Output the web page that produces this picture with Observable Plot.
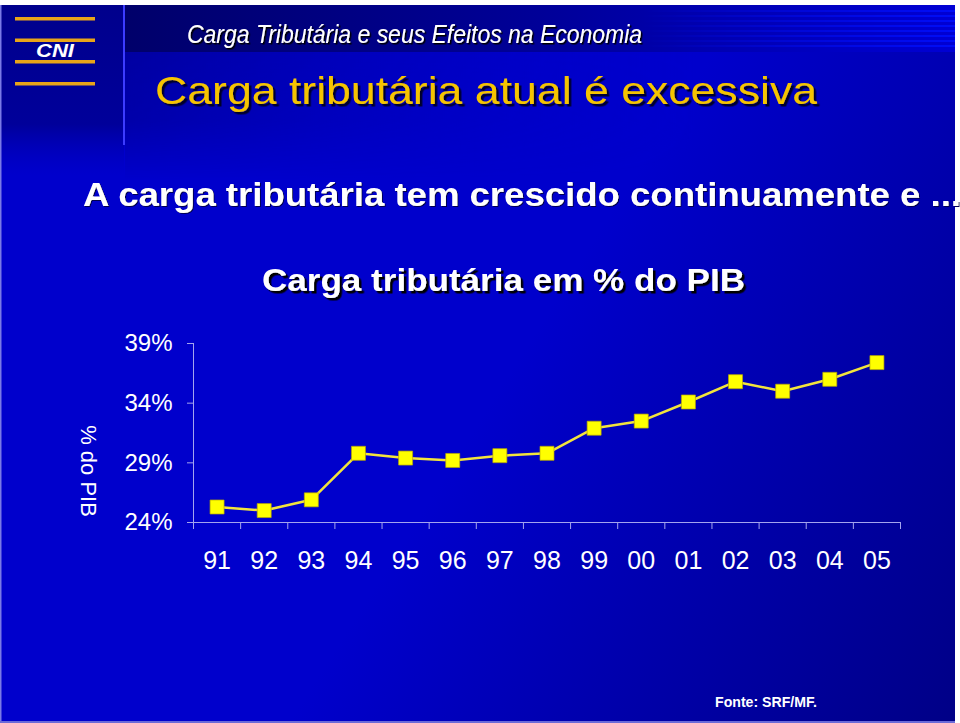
<!DOCTYPE html>
<html>
<head>
<meta charset="utf-8">
<script src="https://cdn.jsdelivr.net/npm/d3@7"></script>
<script src="https://cdn.jsdelivr.net/npm/@observablehq/plot@0.6"></script>
<style>
  html, body { margin: 0; padding: 0; background: #ffffff; }
  #slide { position: relative; width: 960px; height: 723px; overflow: hidden; font-family: "Liberation Sans", Arial, sans-serif; }
  #chart { position: absolute; left: 0; top: 300px; }
  #chart svg text { fill: #ffffff; }
</style>
</head>
<body>
<div id="slide"><div id="chart"></div></div>
<script>
// ---- data ----
const years = ["91", "92", "93", "94", "95", "96", "97", "98", "99", "00", "01", "02", "03", "04", "05"];
const cargaPIB = [25.3, 25.0, 25.9, 29.8, 29.4, 29.2, 29.6, 29.8, 31.9, 32.5, 34.1, 35.8, 35.0, 36.0, 37.4];
const yTicks = [24, 29, 34, 39];
const headerText = "Carga Tributária e seus Efeitos na Economia";
const titleText = "Carga tributária atual é excessiva";
const subtitleText = "A carga tributária tem crescido continuamente e ...";
const chartTitle = "Carga tributária em % do PIB";
const yLabel = "% do PIB";
const sourceText = "Fonte: SRF/MF.";

const rows = years.map((year, i) => ({i, year, v: cargaPIB[i]}));
const xDomain = [-0.5, years.length - 0.5];

// ---- decorative slide background & texts ----
const W = 960, H = 723;
const deco = d3.select("#slide").insert("svg", "#chart")
  .attr("width", W).attr("height", H)
  .style("position", "absolute").style("left", 0).style("top", 0);
const defs = deco.append("defs");

const bg = defs.append("linearGradient").attr("id", "bg")
  .attr("gradientUnits", "userSpaceOnUse")
  .attr("x1", 480).attr("y1", 420).attr("x2", 960).attr("y2", 723);
bg.append("stop").attr("offset", 0).attr("stop-color", "#0000cc");
bg.append("stop").attr("offset", 1).attr("stop-color", "#000086");

const band = defs.append("linearGradient").attr("id", "band");
band.append("stop").attr("offset", 0).attr("stop-color", "#00006a");
band.append("stop").attr("offset", 0.5).attr("stop-color", "#000098");
band.append("stop").attr("offset", 1).attr("stop-color", "#0000d4");

const below = defs.append("linearGradient").attr("id", "below");
below.append("stop").attr("offset", 0).attr("stop-color", "#00009a").attr("stop-opacity", 1);
below.append("stop").attr("offset", 0.7).attr("stop-color", "#0000cc").attr("stop-opacity", 0);

const vfade = defs.append("linearGradient").attr("id", "vfade").attr("x1", 0).attr("y1", 0).attr("x2", 0).attr("y2", 1);
vfade.append("stop").attr("offset", 0).attr("stop-color", "#fff").attr("stop-opacity", 1);
vfade.append("stop").attr("offset", 0.55).attr("stop-color", "#fff").attr("stop-opacity", 0.8);
vfade.append("stop").attr("offset", 1).attr("stop-color", "#fff").attr("stop-opacity", 0);
defs.append("mask").attr("id", "vfadeMask").attr("maskContentUnits", "objectBoundingBox")
  .append("rect").attr("width", 1).attr("height", 1).attr("fill", "url(#vfade)");

const panel = defs.append("linearGradient").attr("id", "panel").attr("x1", 0).attr("y1", 0).attr("x2", 0).attr("y2", 1);
panel.append("stop").attr("offset", 0).attr("stop-color", "#00008c").attr("stop-opacity", 1);
panel.append("stop").attr("offset", 0.7).attr("stop-color", "#00009a").attr("stop-opacity", 1);
panel.append("stop").attr("offset", 1).attr("stop-color", "#0000b8").attr("stop-opacity", 0);

const stripes = defs.append("pattern").attr("id", "stripes")
  .attr("patternUnits", "userSpaceOnUse").attr("width", 10).attr("height", 5);
stripes.append("rect").attr("width", 10).attr("height", 2).attr("fill", "#0010ff");

const fade = defs.append("linearGradient").attr("id", "fade");
fade.append("stop").attr("offset", 0).attr("stop-color", "#fff").attr("stop-opacity", 0);
fade.append("stop").attr("offset", 1).attr("stop-color", "#fff").attr("stop-opacity", 0.8);
defs.append("mask").attr("id", "fadeMask").attr("maskContentUnits", "objectBoundingBox")
  .append("rect").attr("width", 1).attr("height", 1).attr("fill", "url(#fade)");

// drop-shadow filters
function shadowFilter(id, d, color) {
  defs.append("filter").attr("id", id)
    .attr("x", "-5%").attr("y", "-20%").attr("width", "115%").attr("height", "150%")
    .append("feDropShadow").attr("dx", d).attr("dy", d).attr("stdDeviation", 0.3)
    .attr("flood-color", color).attr("flood-opacity", 1);
}
shadowFilter("shHeader", 1.5, "#000000");
shadowFilter("shTitle", 2.5, "#00002a");
shadowFilter("shSub", 1, "#000050");
shadowFilter("shChart", 2.5, "#000000");

deco.append("rect").attr("width", W).attr("height", H).attr("fill", "#ffffff");
deco.append("rect").attr("x", 0).attr("y", 5).attr("width", 955).attr("height", H - 5).attr("fill", "url(#bg)");
deco.append("rect").attr("x", 125).attr("y", 50).attr("width", 830).attr("height", 130)
  .attr("fill", "url(#below)").attr("opacity", 0.85).attr("mask", "url(#vfadeMask)");
deco.append("rect").attr("x", 0).attr("y", 5).attr("width", 124).attr("height", 170).attr("fill", "url(#panel)");
deco.append("rect").attr("x", 125).attr("y", 5).attr("width", 830).attr("height", 47).attr("fill", "url(#band)");
deco.append("rect").attr("x", 640).attr("y", 7).attr("width", 315).attr("height", 40)
  .attr("fill", "url(#stripes)").attr("mask", "url(#fadeMask)");
deco.append("line").attr("x1", 124).attr("x2", 124).attr("y1", 5).attr("y2", 145)
  .attr("stroke", "#3c3cff").attr("stroke-width", 2);
deco.append("rect").attr("x", 0).attr("y", 5).attr("width", 1.5).attr("height", H).attr("fill", "#7a7ae6");
deco.append("rect").attr("x", 0).attr("y", H - 2).attr("width", 955).attr("height", 2).attr("fill", "#6a6ad8");

// CNI logo bars
[17, 38.5, 60, 82].forEach(y => {
  deco.append("rect").attr("x", 15).attr("y", y).attr("width", 80).attr("height", 3.5).attr("fill", "#e8a419");
});

function txt(o) {
  const t = deco.append("text")
    .attr("x", o.x).attr("y", o.y)
    .attr("fill", o.fill || "#ffffff")
    .attr("font-family", o.family || "'Liberation Sans', Arial, sans-serif")
    .attr("font-size", o.size)
    .attr("font-weight", o.weight || "normal")
    .attr("font-style", o.style || "normal")
    .attr("text-anchor", o.anchor || "start")
    .text(o.text);
  if (o.len) t.attr("textLength", o.len).attr("lengthAdjust", "spacingAndGlyphs");
  if (o.rotate) t.attr("transform", `rotate(${o.rotate},${o.x},${o.y})`).attr("dominant-baseline", "middle");
  if (o.filter) t.attr("filter", `url(#${o.filter})`);
  return t;
}

txt({x: 55, y: 57, text: "CNI", size: 18, weight: "bold", style: "italic", anchor: "middle", len: 38});
txt({x: 187, y: 43, text: headerText, size: 25, style: "italic",
     family: "'Liberation Sans Narrow', 'Arial Narrow', 'Liberation Sans', sans-serif", len: 455, filter: "shHeader"});
txt({x: 155, y: 104, text: titleText, size: 39, fill: "#f5c400", len: 662, filter: "shTitle"});
txt({x: 83, y: 206, text: subtitleText, size: 34, weight: "bold", len: 878, filter: "shSub"});
txt({x: 262, y: 291, text: chartTitle, size: 32, weight: "bold", len: 483, filter: "shChart"});
txt({x: 87, y: 471, text: yLabel, size: 22, anchor: "middle", rotate: 90});
txt({x: 715, y: 707, text: sourceText, size: 15, weight: "bold", len: 102});

// ---- chart ----
const chart = Plot.plot({
  width: 960,
  height: 300,
  marginLeft: 193,
  marginRight: 60,
  marginTop: 43,
  marginBottom: 78,
  style: {
    background: "transparent",
    color: "#a4a4ee",
    fontFamily: "'Liberation Sans', Arial, sans-serif",
    fontSize: "24px",
    overflow: "visible"
  },
  x: {
    domain: xDomain,
    ticks: d3.range(years.length + 1).map(k => k + xDomain[0]),
    tickFormat: () => "",
    tickSize: 7,
    label: null
  },
  y: {
    domain: [yTicks[0], yTicks[yTicks.length - 1]],
    ticks: yTicks,
    tickFormat: d => d + "%",
    tickSize: 6,
    tickPadding: 15,
    label: null
  },
  marks: [
    Plot.ruleY([yTicks[0]], {stroke: "#a4a4ee", strokeWidth: 1}),
    Plot.ruleX([xDomain[0]], {stroke: "#a4a4ee", strokeWidth: 1}),
    Plot.line(rows, {x: "i", y: "v", stroke: "#f2e43c", strokeWidth: 2.5}),
    Plot.dot(rows, {x: "i", y: "v", symbol: "square", r: 7.9, fill: "#ffff00", stroke: "#b8a800", strokeWidth: 0.7}),
    Plot.text(rows, {x: "i", text: "year", frameAnchor: "bottom", dy: 46, fill: "#ffffff", fontSize: 25})
  ]
});
document.getElementById("chart").appendChild(chart);
</script>
</body>
</html>
